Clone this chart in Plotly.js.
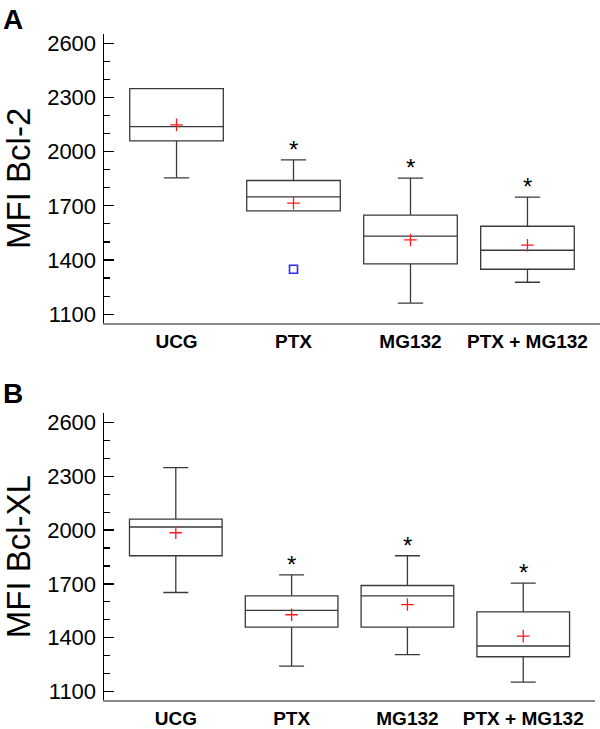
<!DOCTYPE html>
<html>
<head>
<meta charset="utf-8">
<script src="https://cdn.plot.ly/plotly-3.0.1.min.js"></script>
<style>html,body{margin:0;padding:0;background:#fff;}#chart{width:600px;height:729px;}</style>
</head>
<body>
<div id="chart"></div>
<script>
// Categories
const categories = ['UCG', 'PTX', 'MG132', 'PTX + MG132'];

// Panel A: MFI Bcl-2
const aQ1     = [2059, 1672, 1379, 1349];
const aMedian = [2138, 1749, 1532, 1454];
const aQ3     = [2349, 1840, 1648, 1587];
const aLower  = [1855, 1672, 1161, 1277];
const aUpper  = [2349, 1954, 1853, 1748];
const aMean   = [2148, 1715, 1511, 1482];
const aOutlierCat = ['PTX'];
const aOutlierVal = [1349];
const aStars  = [false, true, true, true];

// Panel B: MFI Bcl-XL
const bQ1     = [1857, 1459, 1459, 1294];
const bMedian = [2017, 1552, 1633, 1354];
const bQ3     = [2061, 1633, 1691, 1544];
const bLower  = [1652, 1242, 1306, 1152];
const bUpper  = [2348, 1750, 1857, 1704];
const bMean   = [1985, 1528, 1585, 1409];
const bStars  = [false, true, true, true];

// Axis ticks
const yTickVals = [1100, 1400, 1700, 2000, 2300, 2600];
const yRange = [1053, 2651];

const FONT = 'Liberation Sans, Arial, Helvetica, sans-serif';
const boxLine = '#3a3a3a';

function boxTrace(q1, med, q3, lo, up, xa, ya) {
  return {
    type: 'box', x: categories, q1: q1, median: med, q3: q3,
    lowerfence: lo, upperfence: up, boxpoints: false,
    width: 0.8, whiskerwidth: 0.27,
    fillcolor: 'rgba(0,0,0,0)',
    line: {color: boxLine, width: 1.3},
    xaxis: xa, yaxis: ya, showlegend: false, hoverinfo: 'skip'
  };
}
function meanTrace(mean, xa, ya) {
  return {
    type: 'scatter', mode: 'markers', x: categories, y: mean,
    marker: {symbol: 'cross-thin', size: 9, color: '#ff1a1a', line: {color: '#ff1a1a', width: 1.3}},
    xaxis: xa, yaxis: ya, showlegend: false, hoverinfo: 'skip'
  };
}

const data = [
  boxTrace(aQ1, aMedian, aQ3, aLower, aUpper, 'x', 'y'),
  meanTrace(aMean, 'x', 'y'),
  {type: 'scatter', mode: 'markers', x: aOutlierCat, y: aOutlierVal,
   marker: {symbol: 'square-open', size: 8, color: '#2828ff', line: {color: '#2828ff', width: 1.6}},
   xaxis: 'x', yaxis: 'y', showlegend: false, hoverinfo: 'skip'},
  boxTrace(bQ1, bMedian, bQ3, bLower, bUpper, 'x2', 'y2'),
  meanTrace(bMean, 'x2', 'y2')
];

const annotations = [];
function addStars(stars, up, xref, yref) {
  stars.forEach((s, i) => {
    if (s) annotations.push({
      x: categories[i], y: up[i], xref: xref, yref: yref,
      text: '*', showarrow: false, yanchor: 'bottom', yshift: -5,
      font: {family: FONT, size: 24, color: '#000'}
    });
  });
}
addStars(aStars, aUpper, 'x', 'y');
addStars(bStars, bUpper, 'x2', 'y2');
annotations.push({xref: 'paper', yref: 'paper', x: -0.207, y: 1.0, xanchor: 'left', yanchor: 'top',
  text: '<b>A</b>', showarrow: false, font: {family: FONT, size: 28, color: '#000'}, yshift: -2});
annotations.push({xref: 'paper', yref: 'paper', x: -0.207, y: 0.483, xanchor: 'left', yanchor: 'top',
  text: '<b>B</b>', showarrow: false, font: {family: FONT, size: 28, color: '#000'}, yshift: 1});

function yAxis(domain, title) {
  return {
    domain: domain, range: yRange, tickvals: yTickVals,
    ticks: 'inside', ticklen: 10, tickwidth: 1.3, tickcolor: '#000',
    minor: {dtick: 100, ticks: 'inside', ticklen: 6, tickwidth: 1.2, tickcolor: '#000', showgrid: false},
    showline: true, linecolor: '#000', linewidth: 1.5, showgrid: false, zeroline: false,
    tickfont: {family: FONT, size: 22, color: '#000'}, ticklabelstandoff: 2,
    title: {text: title, font: {family: FONT, size: 33, color: '#000'}, standoff: 8}
  };
}
function xAxis(domain, anchor) {
  return {
    domain: domain, anchor: anchor, range: [-0.62, 3.62], type: 'category',
    showline: true, linecolor: '#888', linewidth: 2, ticks: '', showgrid: false, zeroline: false,
    tickfont: {family: FONT, size: 19, color: '#000', weight: 'bold'}
  };
}

const layout = {
  width: 600, height: 729,
  margin: {l: 104, r: 0, t: 0, b: 0},
  paper_bgcolor: '#fff', plot_bgcolor: '#fff',
  showlegend: false,
  xaxis: xAxis([0, 1], 'y'),
  yaxis: yAxis([0.5573, 0.9534], 'MFI Bcl-2'),
  xaxis2: xAxis([0, 0.99], 'y2'),
  yaxis2: yAxis([0.0398, 0.4331], 'MFI Bcl-XL'),
  annotations: annotations
};
layout.yaxis2.anchor = 'x2';

Plotly.newPlot('chart', data, layout, {staticPlot: true, displayModeBar: false});
</script>
</body>
</html>
